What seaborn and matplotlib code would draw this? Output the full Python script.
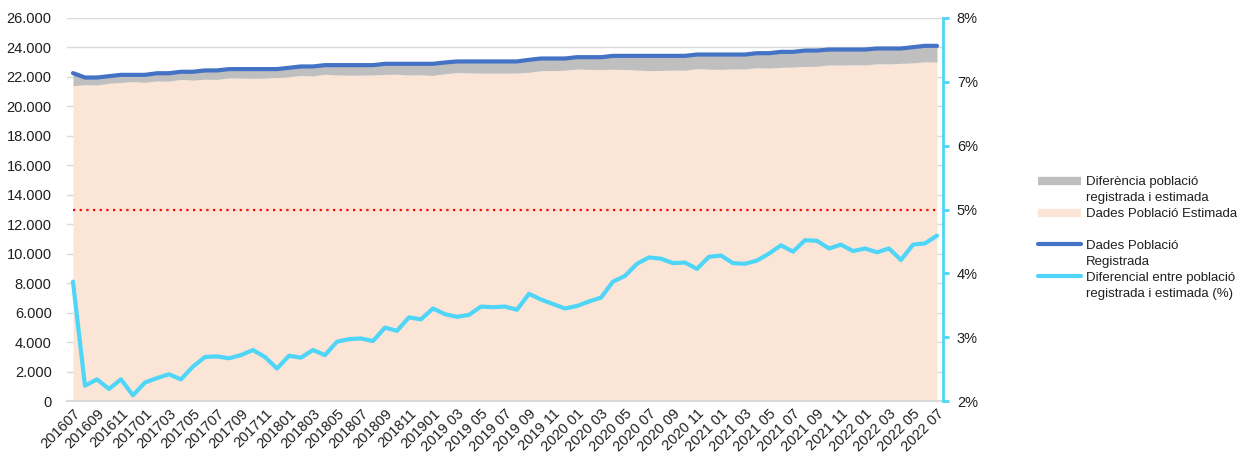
import matplotlib
matplotlib.use("Agg")
import matplotlib.pyplot as plt
from matplotlib.lines import Line2D
from matplotlib.ticker import FuncFormatter, MultipleLocator
import numpy as np
import pandas as pd
import seaborn as sns

# monthly data, 201607 .. 2022 07
registrada = [22260, 21960, 21960, 22050, 22140, 22140, 22140, 22250, 22250, 22350,
              22350, 22440, 22440, 22530, 22530, 22530, 22530, 22530, 22620, 22710,
              22710, 22800, 22800, 22800, 22800, 22800, 22890, 22890, 22890, 22890,
              22890, 22980, 23050, 23050, 23050, 23050, 23050, 23050, 23160, 23250,
              23250, 23250, 23340, 23340, 23340, 23430, 23430, 23430, 23430, 23430,
              23430, 23430, 23520, 23520, 23520, 23520, 23520, 23610, 23610, 23700,
              23700, 23790, 23790, 23860, 23860, 23860, 23860, 23930, 23930, 23930,
              24020, 24110, 24110]
estimada = [21400, 21470, 21450, 21570, 21620, 21680, 21630, 21720, 21710, 21830,
            21780, 21840, 21830, 21930, 21920, 21900, 21920, 21960, 22010, 22100,
            22070, 22180, 22130, 22120, 22120, 22130, 22170, 22180, 22130, 22140,
            22100, 22210, 22290, 22280, 22250, 22250, 22250, 22260, 22310, 22420,
            22430, 22450, 22530, 22510, 22500, 22520, 22500, 22460, 22430, 22440,
            22460, 22450, 22560, 22520, 22510, 22540, 22540, 22620, 22590, 22650,
            22670, 22710, 22720, 22810, 22800, 22820, 22810, 22890, 22880, 22920,
            22950, 23030, 23000]
diferencial = [3.87, 2.24, 2.34, 2.19, 2.34, 2.09, 2.29, 2.36, 2.42, 2.34,
               2.54, 2.69, 2.70, 2.67, 2.72, 2.80, 2.69, 2.51, 2.71, 2.68,
               2.80, 2.72, 2.93, 2.97, 2.98, 2.94, 3.15, 3.10, 3.31, 3.28,
               3.45, 3.36, 3.32, 3.35, 3.48, 3.47, 3.48, 3.43, 3.68, 3.59,
               3.52, 3.45, 3.49, 3.56, 3.62, 3.87, 3.96, 4.15, 4.25, 4.23,
               4.16, 4.17, 4.07, 4.26, 4.28, 4.16, 4.15, 4.20, 4.31, 4.44,
               4.34, 4.52, 4.51, 4.39, 4.45, 4.35, 4.39, 4.33, 4.39, 4.21,
               4.45, 4.47, 4.59]
llindar = 5.0

etiquetes = ["201607", "201609", "201611", "201701", "201703", "201705", "201707",
             "201709", "201711", "201801", "201803", "201805", "201807", "201809",
             "201811", "201901", "2019 03", "2019 05", "2019 07", "2019 09", "2019 11",
             "2020 01", "2020 03", "2020 05", "2020 07", "2020 09", "2020 11",
             "2021 01", "2021 03", "2021 05", "2021 07", "2021 09", "2021 11",
             "2022 01", "2022 03", "2022 05", "2022 07"]

df = pd.DataFrame({"mes": np.arange(len(registrada)),
                   "registrada": registrada,
                   "estimada": estimada,
                   "diferencial": diferencial})

c_gris = "#BFBFBF"
c_pell = "#FBE5D6"
c_blau = "#4472C4"
c_cian = "#4FD5F7"
c_text = "#1F1F1F"

sns.set_theme(style="white")
plt.rcParams["font.family"] = ["Liberation Sans", "DejaVu Sans"]

fig = plt.figure(figsize=(12.47, 4.61), dpi=100)
ax = fig.add_axes([0.0537, 0.130, 0.7025, 0.831])

ax.fill_between(df["mes"], 0, df["estimada"], color=c_pell, lw=0, zorder=2)
ax.fill_between(df["mes"], df["estimada"], df["registrada"], color=c_gris, lw=0, zorder=2)
sns.lineplot(data=df, x="mes", y="registrada", ax=ax, color=c_blau, lw=3, zorder=3)

ax.set_xlim(-0.5, len(df) - 0.5)
ax.set_ylim(0, 26000)
ax.yaxis.set_major_locator(MultipleLocator(2000))
ax.yaxis.set_major_formatter(FuncFormatter(lambda v, p: f"{int(v):,}".replace(",", ".")))
ax.yaxis.grid(True, color="#D9D9D9", lw=1)
ax.set_axisbelow(True)
ax.set_xticks(df["mes"][::2], etiquetes)
plt.setp(ax.get_xticklabels(), rotation=45, ha="right", rotation_mode="anchor")
ax.tick_params(axis="x", length=0, pad=4, labelsize=10.5, labelcolor=c_text)
ax.tick_params(axis="y", length=0, pad=11, labelsize=10.5, labelcolor=c_text)
ax.set_xlabel("")
ax.set_ylabel("")
for s in ["top", "right", "left"]:
    ax.spines[s].set_visible(False)
ax.spines["bottom"].set_color("#D9D9D9")
ax.spines["bottom"].set_linewidth(1.5)
ax.spines["bottom"].set_zorder(4)

ax2 = ax.twinx()
ax2.hlines(llindar, df["mes"].iloc[0], df["mes"].iloc[-1], color="red",
           linestyles=(0, (1, 2)), lw=1.6, zorder=2)
sns.lineplot(data=df, x="mes", y="diferencial", ax=ax2, color=c_cian, lw=3, zorder=3)
ax2.set_ylim(2, 8)
ax2.yaxis.set_major_locator(MultipleLocator(1))
ax2.yaxis.set_major_formatter(FuncFormatter(lambda v, p: f"{v:.0f}%"))
ax2.tick_params(axis="y", direction="out", length=4, width=2, color=c_cian,
                labelsize=10.5, pad=6, labelcolor=c_text)
ax2.set_ylabel("")
for s in ["top", "left", "bottom"]:
    ax2.spines[s].set_visible(False)
ax2.spines["right"].set_color(c_cian)
ax2.spines["right"].set_linewidth(2)

# legend, one row per text line
buit = Line2D([], [], lw=0)
handles = [Line2D([], [], color=c_gris, lw=6, solid_capstyle="butt"), buit,
           Line2D([], [], color=c_pell, lw=6, solid_capstyle="butt"), buit,
           Line2D([], [], color=c_blau, lw=3), buit,
           Line2D([], [], color=c_cian, lw=3), buit]
labels = ["Diferència població", "registrada i estimada", "Dades Població Estimada", "",
          "Dades Població", "Registrada", "Diferencial entre població",
          "registrada i estimada (%)"]
leg = fig.legend(handles, labels, loc="upper left", bbox_to_anchor=(0.832, 0.618),
                 frameon=False, fontsize=9.5, handlelength=3.3, handletextpad=0.4,
                 labelspacing=0.28, borderpad=0, borderaxespad=0)
for t in leg.get_texts():
    t.set_color(c_text)

fig.savefig("out.png", dpi=100, facecolor="white")
